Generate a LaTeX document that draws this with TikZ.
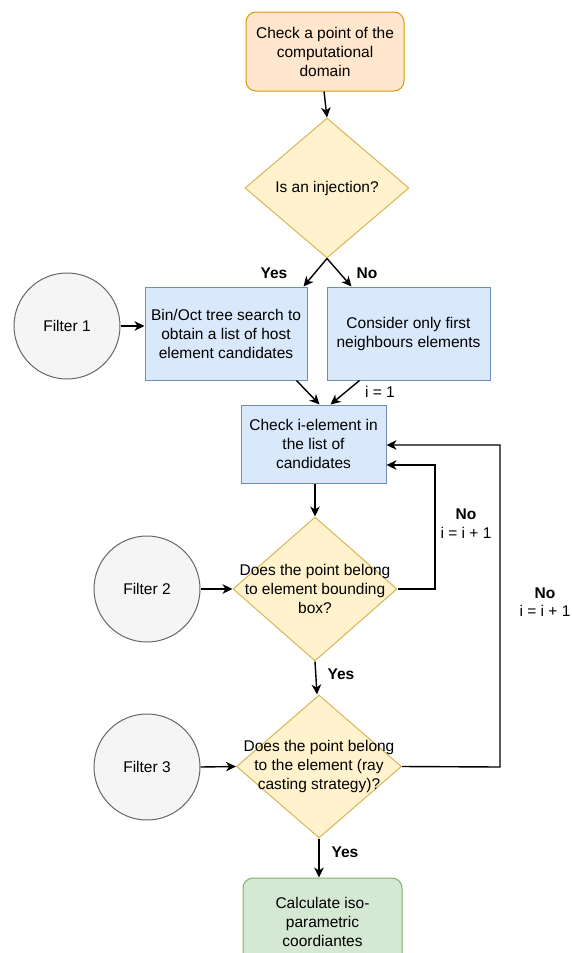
\documentclass[tikz,border=0pt]{standalone}
\usepackage{fontspec}
\setmainfont{Liberation Sans}
\usetikzlibrary{shapes.geometric,arrows.meta,calc}
\definecolor{orfill}{HTML}{FFE6CC}\definecolor{ordraw}{HTML}{D79B00}
\definecolor{yefill}{HTML}{FFF2CC}\definecolor{yedraw}{HTML}{D6B656}
\definecolor{blfill}{HTML}{DAE8FC}\definecolor{bldraw}{HTML}{6C8EBF}
\definecolor{grfill}{HTML}{D5E8D4}\definecolor{grdraw}{HTML}{82B366}
\definecolor{gyfill}{HTML}{F5F5F5}\definecolor{gydraw}{HTML}{666666}
\tikzset{
  txt/.style={font=\fontsize{15.5}{19}\selectfont, align=center},
  lbl/.style={font=\fontsize{15.5}{19}\selectfont},
  blbl/.style={font=\fontsize{15.5}{19}\selectfont\bfseries},
  orbox/.style={txt, draw=ordraw, fill=orfill, line width=1pt, rounded corners=10pt, inner sep=0pt},
  blbox/.style={txt, draw=bldraw, fill=blfill, line width=1pt, inner sep=0pt},
  grbox/.style={txt, draw=grdraw, fill=grfill, line width=1pt, rounded corners=10pt, inner sep=0pt},
  dia/.style={diamond, draw=yedraw, fill=yefill, line width=1pt, inner sep=0pt},
  filt/.style={txt, circle, draw=gydraw, fill=gyfill, line width=1pt, minimum size=106pt, inner sep=0pt},
  arr/.style={line width=1.4pt, -{Stealth[length=10pt,width=9.5pt,inset=3pt]}},
}
\begin{document}
\begin{tikzpicture}[x=1pt,y=-1pt]
\useasboundingbox (0,0) rectangle (571,953);
\clip (0,0) rectangle (571,953);
\node[orbox, minimum width=158pt, minimum height=79pt] (top) at (325,51.5) {Check a point of the\\computational\\domain};
\node[dia, minimum width=164pt, minimum height=140pt] (d1) at (327,188) {};
\node[txt] (d1t) at (d1.center) {Is an injection?};
\node[blbox, minimum width=162pt, minimum height=93pt] (b1) at (226,333.5) {Bin/Oct tree search to\\obtain a list of host\\element candidates};
\node[blbox, minimum width=163pt, minimum height=93pt] (b2) at (408.5,333.5) {Consider only first\\neighbours elements};
\node[filt] (f1) at (67,326) {Filter 1};
\node[blbox, minimum width=145pt, minimum height=78pt] (chk) at (313.5,444) {Check i-element in\\the list of\\candidates};
\node[dia, minimum width=164pt, minimum height=144pt] (d2) at (315,589) {};
\node[txt] (d2t) at (d2.center) {Does the point belong\\to element bounding\\box?};
\node[filt] (f2) at (147,589) {Filter 2};
\node[dia, minimum width=165pt, minimum height=143pt] (d3) at (319,766.5) {};
\node[txt] (d3t) at (d3.center) {Does the point belong\\to the element (ray\\casting strategy)?};
\node[filt] (f3) at (147,767) {Filter 3};
\node[grbox, minimum width=159pt, minimum height=88pt] (end) at (322.5,922) {Calculate iso-\\parametric\\coordiantes};

\draw[arr] ([xshift=-1pt]top.south) -- (d1.north);
\draw[arr] (d1.south) -- ([xshift=-4pt]b1.north east);
\draw[arr] (d1.south) -- ([xshift=25pt]b2.north west);
\node[blbl] (yes1) at (274,273) {Yes};
\node[blbl] (no1) at (367,273) {No};
\draw[arr] (f1.east) -- (b1.west |- f1.east);
\draw[arr] ([xshift=-11pt]b1.south east) -- ([xshift=6pt]chk.north);
\draw[arr] ([xshift=33pt]b2.south west) -- ([xshift=17pt]chk.north);
\node[lbl] (i1) at (380,392) {i = 1};
\draw[arr] ([xshift=1.5pt]chk.south) -- (d2.north);
\draw[arr] (f2.east) -- (d2.west);
\coordinate (c1) at (435,589);
\coordinate (c2) at (435,465);
\draw[arr] (d2.east) -- (c1) -- (c2) -- ([yshift=-21pt]chk.east);
\node[blbl] (no2) at (466,514) {No};
\node[lbl] (inc2) at (466,533) {i = i + 1};
\draw[arr] (d2.south) -- ([xshift=-2pt]d3.north);
\node[blbl] (yes2) at (341,674) {Yes};
\draw[arr] (f3.east) -- (d3.west);
\coordinate (c3) at (500,767);
\coordinate (c4) at (500,445);
\draw[arr] (d3.east) -- (c3) -- (c4) -- ([yshift=-1pt]chk.east);
\node[blbl] (no3) at (545,593) {No};
\node[lbl] (inc3) at (545,611) {i = i + 1};
\draw[arr] (d3.south) -- (d3.south |- end.north);
\node[blbl] (yes3) at (345,852) {Yes};
\end{tikzpicture}
\end{document}
